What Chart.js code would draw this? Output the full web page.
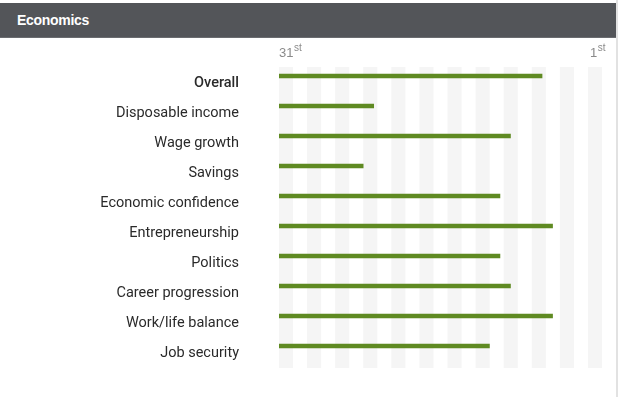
<!DOCTYPE html>
<html>
<head>
<meta charset="utf-8">
<script src="https://cdn.jsdelivr.net/npm/chart.js@4"></script>
<style>
  body { margin: 0; background: #fff; }
  #panel { position: absolute; left: 0; top: 0; width: 616px; height: 397px; border-right: 2px solid #e2e2e2; }
  #header { position: absolute; left: 0; top: 3px; width: 616px; height: 35px; background: #535559;
            border-bottom: 1px solid #6a6c70; box-sizing: border-box; }
  #header span { position: absolute; left: 17px; top: 9px; color: #fff; font: bold 14px "Liberation Sans", Arial, sans-serif; letter-spacing: -0.3px; }
  #rankChart { position: absolute; left: 0; top: 0; }
</style>
</head>
<body>
<div id="panel"></div>
<div id="header"><span>Economics</span></div>
<canvas id="rankChart" width="628" height="397"></canvas>
<script>
const categories = ['Overall', 'Disposable income', 'Wage growth', 'Savings', 'Economic confidence',
                    'Entrepreneurship', 'Politics', 'Career progression', 'Work/life balance', 'Job security'];
// rank out of 31 countries (1 = best)
const ranks = [6, 22, 9, 23, 10, 5, 10, 9, 5, 11];
const worstRank = 31;
const rankLabels = [{ value: 31, num: '31', sup: 'st' }, { value: 1, num: '1', sup: 'st' }];

const stripes = {
  id: 'stripes',
  beforeDatasetsDraw(chart) {
    const { ctx, chartArea } = chart;
    const n = 23;
    const w = (chartArea.right - chartArea.left) / n;
    ctx.save();
    ctx.fillStyle = '#f5f5f5';
    for (let i = 0; i < n; i += 2) {
      ctx.fillRect(chartArea.left + i * w, chartArea.top + 6, w, chartArea.bottom - chartArea.top + 1);
    }
    ctx.restore();
  },
  afterDraw(chart) {
    const { ctx, chartArea } = chart;
    const x = chart.scales.x;
    ctx.save();
    ctx.fillStyle = '#8a8a8a';
    ctx.textBaseline = 'alphabetic';
    rankLabels.forEach((r, i) => {
      ctx.font = '13px "Liberation Sans", Arial, sans-serif';
      const nw = ctx.measureText(r.num).width;
      ctx.font = '10px "Liberation Sans", Arial, sans-serif';
      const sw = ctx.measureText(r.sup).width;
      let left = x.getPixelForValue(r.value);
      if (i === rankLabels.length - 1) left = chartArea.right + 3 - nw - sw;
      ctx.font = '13px "Liberation Sans", Arial, sans-serif';
      ctx.fillText(r.num, left, 57);
      ctx.font = '10px "Liberation Sans", Arial, sans-serif';
      ctx.fillText(r.sup, left + nw + 0.5, 51);
    });
    ctx.restore();
  }
};

new Chart(document.getElementById('rankChart'), {
  type: 'bar',
  data: {
    labels: categories,
    datasets: [{
      data: ranks.map(r => [worstRank, r]),
      backgroundColor: '#5f8a22',
      barThickness: 4,
      borderSkipped: false
    }]
  },
  options: {
    indexAxis: 'y',
    responsive: false,
    animation: false,
    layout: { padding: { left: 0, top: 61, right: 26, bottom: 36 } },
    plugins: { legend: { display: false }, tooltip: { enabled: false } },
    scales: {
      x: { display: false, reverse: true, min: 0.3, max: worstRank },
      y: {
        grid: { display: false, drawTicks: false },
        border: { display: false },
        afterFit(scale) {
          scale.width = 279;
          scale.paddingTop = 0;
          scale.paddingBottom = 0;
        },
        ticks: {
          padding: 40,
          labelOffset: 7,
          color: '#2a2a2a',
          font: ctx => ({ family: 'Roboto, "Liberation Sans", sans-serif', size: 14.5,
                          weight: ctx.index === 0 ? '500' : 'normal' })
        }
      }
    }
  },
  plugins: [stripes]
});
</script>
</body>
</html>
